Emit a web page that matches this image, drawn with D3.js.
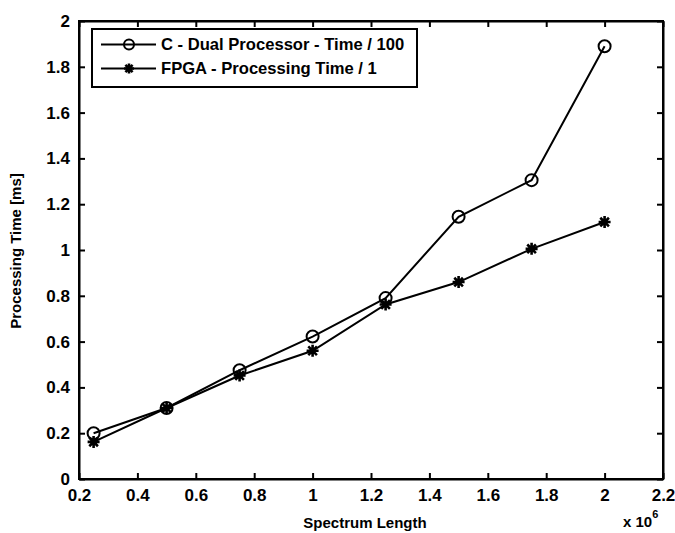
<!DOCTYPE html>
<html><head><meta charset="utf-8">
<script src="https://cdn.jsdelivr.net/npm/d3@7"></script>
<style>
html,body{margin:0;padding:0;background:#fff;}
text{font-family:"Liberation Sans",Arial,Helvetica,sans-serif;font-weight:bold;fill:#000;}
</style></head>
<body><svg id="chart" width="675" height="533"></svg>
<script>
const xValues = [0.25, 0.5, 0.75, 1.0, 1.25, 1.5, 1.75, 2.0];
const cDual = [0.20, 0.31, 0.475, 0.622, 0.79, 1.145, 1.305, 1.89];
const fpga = [0.162, 0.31, 0.452, 0.56, 0.762, 0.86, 1.005, 1.122];
const xTicks = [0.2, 0.4, 0.6, 0.8, 1, 1.2, 1.4, 1.6, 1.8, 2, 2.2];
const yTicks = [0, 0.2, 0.4, 0.6, 0.8, 1, 1.2, 1.4, 1.6, 1.8, 2];
const seriesNames = ["C - Dual Processor - Time / 100", "FPGA - Processing Time / 1"];

const svg = d3.select("#chart");
const W = 675, H = 533;
const m = {left: 79, top: 21, right: 12, bottom: 54};
const pw = W - m.left - m.right, ph = H - m.top - m.bottom;
const x = d3.scaleLinear().domain([0.2, 2.2]).range([m.left, m.left + pw]);
const y = d3.scaleLinear().domain([0, 2]).range([m.top + ph, m.top]);
const fmt = d => String(+d.toFixed(1));

svg.append("rect").attr("width", W).attr("height", H).attr("fill", "#fff");

// axes with inward ticks on all sides
const gx = svg.append("g").attr("transform", `translate(0,${m.top + ph})`)
  .call(d3.axisBottom(x).tickValues(xTicks).tickFormat(fmt).tickSizeInner(-6).tickSizeOuter(0).tickPadding(10));
const gxt = svg.append("g").attr("transform", `translate(0,${m.top})`)
  .call(d3.axisTop(x).tickValues(xTicks).tickFormat("").tickSizeInner(-6).tickSizeOuter(0));
const gy = svg.append("g").attr("transform", `translate(${m.left},0)`)
  .call(d3.axisLeft(y).tickValues(yTicks).tickFormat(fmt).tickSizeInner(-6).tickSizeOuter(0).tickPadding(9));
const gyr = svg.append("g").attr("transform", `translate(${m.left + pw},0)`)
  .call(d3.axisRight(y).tickValues(yTicks).tickFormat("").tickSizeInner(-6).tickSizeOuter(0));
[gx, gxt, gy, gyr].forEach(g => {
  g.select(".domain").attr("stroke", "#000").attr("stroke-width", 2);
  g.selectAll(".tick line").attr("stroke", "#000").attr("stroke-width", 2);
  g.selectAll("text").style("font-size", "17px").style("font-family", "'Liberation Sans',Arial,sans-serif").style("font-weight", "bold").attr("fill", "#000");
});
gx.selectAll("text").attr("dy", "0.71em");
// frame
svg.append("rect").attr("x", m.left).attr("y", m.top).attr("width", pw).attr("height", ph)
  .attr("fill", "none").attr("stroke", "#000").attr("stroke-width", 2);

const line = d3.line().x((d, i) => x(xValues[i])).y(d => y(d));

function star(g, cx, cy, s) {
  const d = `M${cx - s},${cy}L${cx + s},${cy}M${cx},${cy - s}L${cx},${cy + s}` +
    `M${cx - s * 0.72},${cy - s * 0.72}L${cx + s * 0.72},${cy + s * 0.72}M${cx - s * 0.72},${cy + s * 0.72}L${cx + s * 0.72},${cy - s * 0.72}`;
  g.append("path").attr("d", d).attr("stroke", "#000").attr("stroke-width", 2.6).attr("fill", "none");
}

const plot = svg.append("g");
plot.append("path").datum(fpga).attr("d", line).attr("fill", "none").attr("stroke", "#000").attr("stroke-width", 2);
plot.append("path").datum(cDual).attr("d", line).attr("fill", "none").attr("stroke", "#000").attr("stroke-width", 2);
fpga.forEach((v, i) => star(plot, x(xValues[i]), y(v), 6));
plot.selectAll("circle.c").data(cDual).join("circle").attr("class", "c")
  .attr("cx", (d, i) => x(xValues[i])).attr("cy", d => y(d)).attr("r", 6)
  .attr("fill", "none").attr("stroke", "#000").attr("stroke-width", 2);

// legend
const lg = svg.append("g");
lg.append("rect").attr("x", 92).attr("y", 29).attr("width", 325).attr("height", 58)
  .attr("fill", "#fff").attr("stroke", "#000").attr("stroke-width", 2);
const rows = [44.5, 68.5];
rows.forEach((ry, i) => {
  lg.append("line").attr("x1", 101).attr("x2", 156).attr("y1", ry).attr("y2", ry).attr("stroke", "#000").attr("stroke-width", 2);
  if (i === 0) lg.append("circle").attr("cx", 129).attr("cy", ry).attr("r", 5).attr("fill", "none").attr("stroke", "#000").attr("stroke-width", 2);
  else star(lg, 129, ry, 5);
  lg.append("text").attr("x", 161).attr("y", ry).attr("dy", "0.36em").style("font-size", "16.6px").text(seriesNames[i]);
});

// axis labels
svg.append("text").attr("x", m.left + pw / 2 - 6).attr("y", 528).attr("text-anchor", "middle").style("font-size", "15px").text("Spectrum Length");
svg.append("text").attr("transform", `translate(21,251) rotate(-90)`).attr("text-anchor", "middle").style("font-size", "15px").text("Processing Time [ms]");
const ex = svg.append("text").attr("x", 623).attr("y", 527).style("font-size", "15px");
ex.append("tspan").text("x 10");
ex.append("tspan").attr("dy", -9).style("font-size", "11px").text("6");
</script></body></html>
